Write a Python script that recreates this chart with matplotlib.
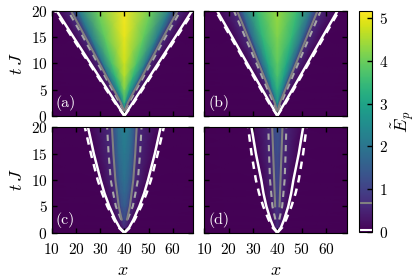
import numpy as np
import matplotlib
matplotlib.use("Agg")
import matplotlib.pyplot as plt

plt.rcParams['font.family'] = 'serif'
plt.rcParams['font.serif'] = ['cmr10', 'DejaVu Serif']
plt.rcParams['mathtext.fontset'] = 'cm'
plt.rcParams['axes.formatter.use_mathtext'] = True

t_rows = [0, 1, 2.5, 5, 7.5, 10, 15, 20]
x0 = 40
nan = np.nan

# half widths (in x) of the curves, per panel
white_w = {
    'a': [0, 1.4, 3.5, 7.0, 10.5, 14.0, 21.0, 27.9],
    'b': [0, 1.2, 3.1, 6.2, 9.3, 12.4, 18.5, 24.7],
    'c': [0, 2.0, 3.8, 6.2, 8.2, 9.8, 12.6, 15.0],
    'd': [0, 1.5, 2.8, 4.5, 5.7, 6.6, 8.8, 10.6],
}
white_dash_w = {
    'a': [0, 1.6, 3.9, 7.5, 11.0, 14.5, 21.6, 28.6],
    'b': [0, 1.4, 3.5, 6.7, 9.8, 12.9, 19.1, 25.3],
    'c': [0, 2.4, 4.3, 7.0, 9.2, 11.0, 13.8, 16.3],
    'd': [0, 2.0, 3.6, 5.8, 7.5, 8.8, 10.6, 12.0],
}
gray_w = {
    'a': [nan, 0.2, 1.5, 4.4, 7.4, 10.3, 16.1, 22.0],
    'b': [nan, 0.2, 1.1, 3.3, 5.5, 7.7, 12.1, 16.5],
    'c': [nan, nan, 1.1, 2.3, 3.0, 3.7, 4.5, 5.1],
    'd': [nan, nan, nan, 0.9, 1.1, 1.3, 1.7, 2.1],
}
gray_dash_w = {
    'a': [nan, 0.3, 2.0, 5.0, 8.0, 11.0, 17.0, 23.2],
    'b': [nan, 0.3, 1.6, 4.0, 6.3, 8.6, 13.2, 17.8],
    'c': [nan, nan, 1.3, 3.5, 4.6, 5.6, 6.5, 7.1],
    'd': [nan, nan, 0.8, 2.0, 2.5, 3.0, 3.4, 3.7],
}

# E_p values across the cone: centre, half way to gray line, near gray line
centre = {
    'a': [0, 2.5, 3.4, 4.2, 4.6, 4.8, 5.0, 5.1],
    'b': [0, 2.0, 2.7, 3.3, 3.7, 3.9, 4.2, 4.4],
    'c': [0, 0.6, 1.1, 1.5, 1.7, 1.9, 2.1, 2.3],
    'd': [0, 0.4, 0.7, 0.9, 1.0, 1.1, 1.2, 1.3],
}
mid = {
    'a': [0, 1.5, 2.3, 3.0, 3.4, 3.7, 3.9, 4.0],
    'b': [0, 1.3, 2.0, 2.6, 2.9, 3.1, 3.4, 3.5],
    'c': [0, 0.5, 1.0, 1.3, 1.5, 1.6, 1.8, 1.9],
    'd': [0, 0.35, 0.6, 0.85, 0.95, 1.0, 1.1, 1.2],
}
shoulder = {
    'a': [0, 1.0, 1.5, 1.9, 2.0, 2.1, 2.1, 2.1],
    'b': [0, 0.9, 1.2, 1.5, 1.6, 1.7, 1.8, 1.8],
    'c': [0, 0.4, 0.85, 1.0, 1.1, 1.2, 1.3, 1.3],
    'd': [0, 0.3, 0.5, 0.75, 0.8, 0.85, 0.9, 0.95],
}
gray_level = 0.68
white_level = 0.03
vmax = 5.17

fig = plt.figure(figsize=(4.15, 2.77), dpi=100)
pos = {
    'a': [0.1246, 0.5823, 0.3412, 0.3780],
    'b': [0.4923, 0.5823, 0.3431, 0.3780],
    'c': [0.1246, 0.1599, 0.3412, 0.3805],
    'd': [0.4923, 0.1599, 0.3431, 0.3805],
}

t = np.array(t_rows, dtype=float)
for key in ['a', 'b', 'c', 'd']:
    ax = fig.add_axes(pos[key])
    g = np.nan_to_num(np.array(gray_w[key]))
    w = np.array(white_w[key])
    offs = np.column_stack([-40 + 0 * g, -w, -g, -0.85 * g, -0.5 * g, 0 * g,
                            0.5 * g, 0.85 * g, g, w, 40 + 0 * g])
    c = np.array(centre[key]); m = np.array(mid[key]); s = np.array(shoulder[key])
    gl = np.where(t > 0, gray_level, 0)
    wl = np.where(t > 0, white_level, 0)
    z = np.zeros_like(t)
    vals = np.column_stack([z, wl, gl, s, m, c, m, s, gl, wl, z])
    X = x0 + offs
    Y = np.repeat(t[:, None], offs.shape[1], axis=1)
    ax.set_facecolor('#440154')
    mesh = ax.pcolormesh(X, Y, vals, shading='gouraud', cmap='viridis',
                         vmin=0, vmax=vmax)

    for side in [-1, 1]:
        ax.plot(x0 + side * np.array(white_dash_w[key]), t, color='white',
                lw=1.8, dashes=(3, 2.5))
        ax.plot(x0 + side * w, t, color='white', lw=1.8)
        ax.plot(x0 + side * np.array(gray_dash_w[key]), t, color='#a8a8a8',
                lw=1.5, dashes=(3, 2.5))
        ax.plot(x0 + side * np.array(gray_w[key]), t, color='#808080', lw=1.5)

    ax.set_xlim(10, 68.5)
    ax.set_ylim(0, 20)
    ax.set_xticks([10, 20, 30, 40, 50, 60])
    ax.set_yticks([0, 5, 10, 15, 20])
    ax.tick_params(direction='in', top=True, right=True, length=3.5, width=1.0,
                   labelsize=11)
    ax.tick_params(axis='x', pad=7)
    ax.tick_params(axis='y', pad=3)
    for sp in ax.spines.values():
        sp.set_linewidth(0.8)
    ax.text(11.6, 2.5, '(%s)' % key, color='white', fontsize=11.5, va='center')
    if key in ['a', 'b']:
        ax.set_xticklabels([])
    else:
        ax.set_xlabel('$x$', fontsize=13, labelpad=4)
    if key in ['b', 'd']:
        ax.set_yticklabels([])
    else:
        ax.set_ylabel('$t\\,J$', fontsize=13, labelpad=4)

cax = fig.add_axes([0.8658, 0.1635, 0.0299, 0.7968])
cb = fig.colorbar(mesh, cax=cax)
cb.set_ticks([0, 1, 2, 3, 4, 5])
cb.ax.tick_params(direction='in', length=3.5, width=1.0, labelsize=11, pad=5)
cb.outline.set_linewidth(0.8)
cb.ax.axhline(gray_level, color='#808080', lw=1.5)
cb.ax.axhline(white_level, color='white', lw=1.5)
cb.set_label('$\\tilde{E}_p$', fontsize=13, labelpad=1)

fig.savefig('out.png', dpi=100)
